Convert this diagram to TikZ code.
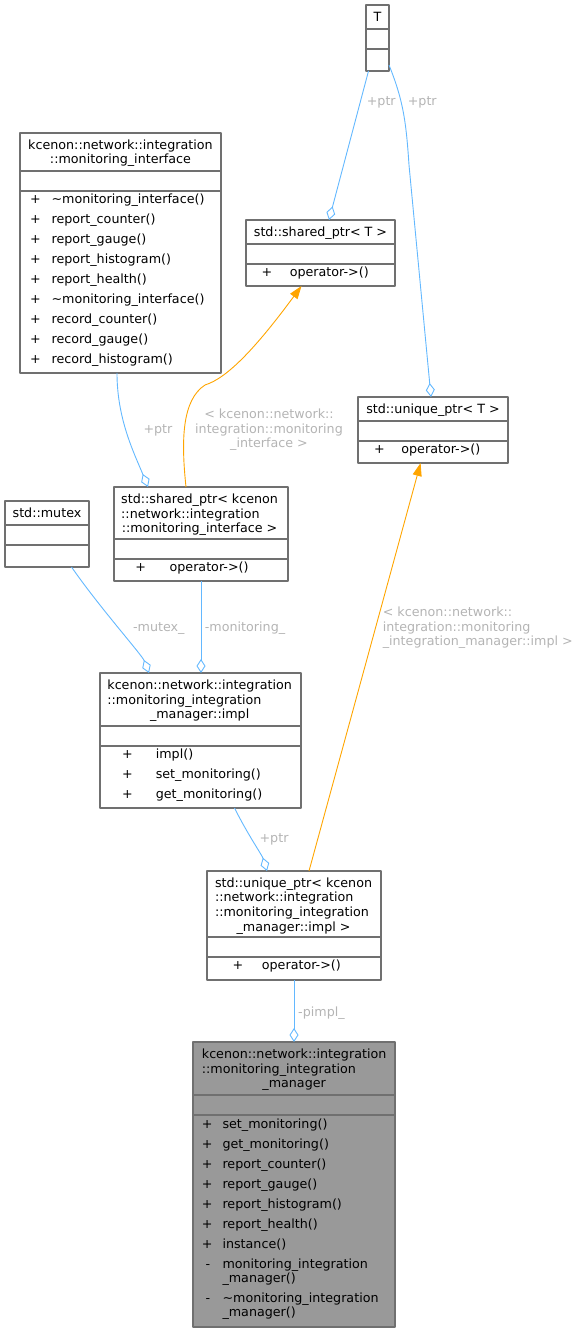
\documentclass[tikz,border=0pt]{standalone}
\usepackage{fontspec}
\setmainfont{DejaVu Sans}
\usepackage{tikz}
\usetikzlibrary{arrows.meta}

\definecolor{edgeblue}{HTML}{63B8FF}
\definecolor{edgeorange}{HTML}{FFA500}
\definecolor{boxgray}{HTML}{707070}
\definecolor{labelgray}{HTML}{B4B4B4}
\definecolor{mainfill}{HTML}{999999}

\begin{document}
\begin{tikzpicture}[
            x = 1pt, y = -1pt, % pixel grid, y grows downwards
            font = \fontsize{12.7}{14.6}\selectfont,
            line join = round
        ]

        \tikzstyle{class}=[
            draw = boxgray,
            line width = 1.2pt,
            fill = white,
            anchor = north west,
            inner sep = 0pt,
            outer sep = 0pt
        ]
        \tikzstyle{txt}=[anchor = base west, inner sep = 0pt]
        \tikzstyle{ttl}=[anchor = base, inner sep = 0pt]
        \tikzstyle{lbl}=[anchor = base west, inner sep = 0pt, text = labelgray]
        \tikzstyle{aggr}=[draw = edgeblue, line width = 0.9pt,
            -{Diamond[open, length = 14pt, width = 9pt]}]
        \tikzstyle{tmpl}=[draw = edgeorange, line width = 0.9pt,
            -{Triangle[length = 13pt, width = 9pt]}]

        \useasboundingbox (0,0) rectangle (583,1332);

        % class boxes
        \node[class, minimum width = 23pt, minimum height = 66pt] (T) at (366,5) {};
        \node[class, minimum width = 201pt, minimum height = 240pt] (mi) at (20,133) {};
        \node[class, minimum width = 149pt, minimum height = 66pt] (spt) at (246,220) {};
        \node[class, minimum width = 150pt, minimum height = 66pt] (upt) at (358,397) {};
        \node[class, minimum width = 84pt, minimum height = 66pt] (mtx) at (5,501) {};
        \node[class, minimum width = 174pt, minimum height = 94pt] (spi) at (114,487) {};
        \node[class, minimum width = 201pt, minimum height = 135pt] (impl) at (100,673) {};
        \node[class, minimum width = 174pt, minimum height = 109pt] (upi) at (207,871) {};
        \node[class, fill = mainfill, minimum width = 202pt, minimum height = 285pt] (mgr) at (193,1042) {};

        % compartment lines
        \foreach \b/\a/\m in {T/24/44, mi/38/58, spt/24/44, upt/24/44, mtx/24/44,
                              spi/52/72, impl/53/73, upi/66/86, mgr/53/73} {
            \draw[boxgray, line width = 1.2pt]
                ([yshift = -\a]\b.north west) -- ([yshift = -\a]\b.north east)
                ([yshift = -\m]\b.north west) -- ([yshift = -\m]\b.north east);
        }

        % titles
        \node[ttl] (T-t) at (377.5,21.7) {T};
        \node[txt] (mi-t) at (28,149.3) {\begin{tabular}[t]{@{}l@{}}kcenon::network::integration\\
            \multicolumn{1}{@{}c@{}}{::monitoring\_interface}\end{tabular}};
        \node[ttl] (spt-t) at (320.5,236.5) {std::shared\_ptr< T >};
        \node[ttl] (upt-t) at (433,413.5) {std::unique\_ptr< T >};
        \node[ttl] (mtx-t) at (47,517.5) {std::mutex};
        \node[txt] (spi-t) at (121,503.5) {\begin{tabular}[t]{@{}l@{}}std::shared\_ptr< kcenon\\
            ::network::integration\\
            \multicolumn{1}{@{}c@{}}{::monitoring\_interface >}\end{tabular}};
        \node[txt] (impl-t) at (107.2,689.5) {\begin{tabular}[t]{@{}l@{}}kcenon::network::integration\\
            ::monitoring\_integration\\
            \multicolumn{1}{@{}c@{}}{\_manager::impl}\end{tabular}};
        \node[txt] (upi-t) at (214.8,887.2) {\begin{tabular}[t]{@{}l@{}}std::unique\_ptr< kcenon\\
            ::network::integration\\
            ::monitoring\_integration\\
            \multicolumn{1}{@{}c@{}}{\_manager::impl >}\end{tabular}};
        \node[txt] (mgr-t) at (201.7,1058.5) {\begin{tabular}[t]{@{}l@{}}kcenon::network::integration\\
            ::monitoring\_integration\\
            \multicolumn{1}{@{}c@{}}{\_manager}\end{tabular}};

        % members
        \foreach \m [count = \i from 0] in {\textasciitilde monitoring\_interface(), report\_counter(),
                report\_gauge(), report\_histogram(), report\_health(),
                \textasciitilde monitoring\_interface(), record\_counter(), record\_gauge(),
                record\_histogram()} {
            \node[txt] (mi-p\i) at (29.9, 203.3 + 20*\i) {+};
            \node[txt] (mi-m\i) at (51.4, 203.3 + 20*\i) {\m};
        }
        \node[txt] (spt-p0) at (261.4,276.3) {+};
        \node[txt] (spt-m0) at (289.6,276.3) {operator->()};
        \node[txt] (upt-p0) at (373.8,453.3) {+};
        \node[txt] (upt-m0) at (401.2,453.3) {operator->()};
        \node[txt] (spi-p0) at (135.2,571.3) {+};
        \node[txt] (spi-m0) at (169.4,571.3) {operator->()};
        \foreach \m [count = \i from 0] in {impl(), set\_monitoring(), get\_monitoring()} {
            \node[txt] (impl-p\i) at (121.8, 758.3 + 20*\i) {+};
            \node[txt] (impl-m\i) at (155.6, 758.3 + 20*\i) {\m};
        }
        \node[txt] (upi-p0) at (232.3,969.3) {+};
        \node[txt] (upi-m0) at (261.7,969.3) {operator->()};
        \foreach \m [count = \i from 0] in {set\_monitoring(), get\_monitoring(), report\_counter(),
                report\_gauge(), report\_histogram(), report\_health(), instance()} {
            \node[txt] (mgr-p\i) at (201.7, 1128.3 + 20*\i) {+};
            \node[txt] (mgr-m\i) at (222.3, 1128.3 + 20*\i) {\m};
        }
        \node[txt] (mgr-p7) at (205.5,1268.3) {-};
        \node[txt] (mgr-m7) at (222.3,1268.3) {\begin{tabular}[t]{@{}l@{}}monitoring\_integration\\
            \_manager()\end{tabular}};
        \node[txt] (mgr-p8) at (205.5,1302.3) {-};
        \node[txt] (mgr-m8) at (222.3,1302.3) {\begin{tabular}[t]{@{}l@{}}\textasciitilde monitoring\_integration\\
            \_manager()\end{tabular}};

        % connectors
        \draw[aggr] ([xshift = 2.5]T.south west) -- ([xshift = 83]spt.north west);
        \draw[aggr] ([yshift = 6]T.south east) .. controls (403,100) and (406,120) .. (409,165)
            -- ([xshift = 73]upt.north west);
        \draw[aggr] ([xshift = 97]mi.south west) .. controls (117,420) and (135,455)
            .. ([xshift = 34]spi.north west);
        \draw[tmpl] ([xshift = 72]spi.north west) .. controls (181,440) and (182,400) .. (205,385)
            .. controls (228,378) and (258,345) .. ([xshift = 55.5]spt.south west);
        \draw[aggr] ([xshift = 66.5]mtx.south west) .. controls (100,608) and (142,655)
            .. ([xshift = 49]impl.north west);
        \draw[aggr] (spi.south) -- (spi.south |- impl.north);
        \draw[aggr] ([xshift = 134.5]impl.south west) .. controls (248,835) and (262,855)
            .. ([xshift = 60]upi.north west);
        \draw[tmpl] ([xshift = 102]upi.north west) -- ([xshift = 62.6]upt.south west);
        \draw[aggr] (upi.south) -- (upi.south |- mgr.north);

        % connector labels
        \node[lbl] (l-tspt) at (366.6,105.5) {+ptr};
        \node[lbl] (l-tupt) at (407.6,105.5) {+ptr};
        \node[lbl] (l-mispi) at (143.3,433.5) {+ptr};
        \node[lbl, anchor = base] (l-spit) at (269,418.5) {\begin{tabular}[t]{@{}c@{}}< kcenon::network::\\
            integration::monitoring\\\_interface >\end{tabular}};
        \node[lbl] (l-mtx) at (132.9,631) {-mutex\_};
        \node[lbl] (l-mon) at (204.7,631) {-monitoring\_};
        \node[lbl] (l-impl) at (259.4,842.5) {+ptr};
        \node[lbl] (l-upit) at (382.6,616.5) {\begin{tabular}[t]{@{}l@{}}< kcenon::network::\\
            integration::monitoring\\\_integration\_manager::impl >\end{tabular}};
        \node[lbl] (l-pimpl) at (298,1016) {-pimpl\_};

  \end{tikzpicture}
\end{document}
